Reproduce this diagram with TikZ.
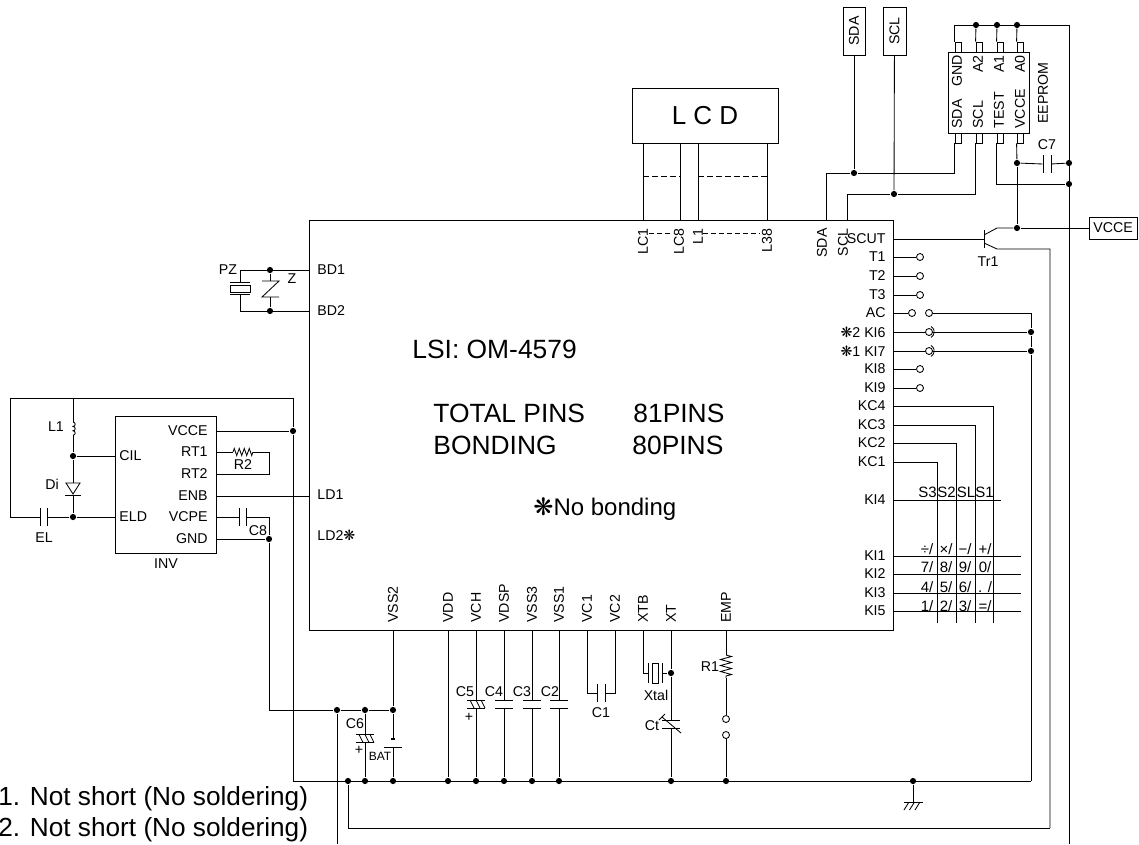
\documentclass[tikz,border=0pt]{standalone}
\usepackage{fontspec}
\setmainfont{Liberation Sans}
\newfontfamily\markfont{DejaVu Sans}
\usepackage{tikz}
\usetikzlibrary{positioning,decorations.pathmorphing}
\newcommand{\mrk}{{\markfont ❋}}
\begin{document}
\begin{tikzpicture}[
x=1pt,y=-1pt,line width=.85pt,
txt/.style={
	inner sep=0pt,
	font=\fontsize{14.2}{16}\selectfont
},
keytxt/.style={
	inner sep=0pt,
	font=\fontsize{15}{16}\selectfont
},
vtxt/.style={
	txt,
	rotate=90
},
big/.style={
	inner sep=0pt,
	anchor=west,
	font=\fontsize{26.4}{30}\selectfont
},
box/.style={
	draw,
	inner sep=0pt
},
pinbox/.style={
	draw,
	inner sep=0pt,
	minimum width=6pt,
	minimum height=10pt
},
dot/.style={
	circle,
	fill,
	inner sep=0pt,
	minimum size=6.2pt
},
hole/.style={
	circle,
	draw,
	fill=white,
	inner sep=0pt,
	minimum size=7pt
},
platev/.style={
	fill,
	inner sep=0pt,
	outer sep=0pt,
	minimum width=.85pt,
	minimum height=#1
},
platev/.default=18pt,
plateh/.style={
	fill,
	inner sep=0pt,
	outer sep=0pt,
	minimum height=.85pt,
	minimum width=#1
},
plateh/.default=18pt,
zig/.style={
	decorate,
	decoration={zigzag,segment length=#1,amplitude=3.5pt}
}
]
\useasboundingbox (0,0) rectangle (1139,844);

\node[box,minimum width=584pt,minimum height=410pt] (lsi) at (601,425) {};
\node[big] (lsiname) at (412,349) {LSI: OM-4579};
\node[big] (total) at (433,413) {TOTAL PINS};
\node[big] (totaln) at (633,413) {81PINS};
\node[big] (bond) at (433,445) {BONDING};
\node[big] (bondn) at (632,445) {80PINS};
\node[big,font=\fontsize{24}{28}\selectfont] (nobond) at (533,509) {\mrk No bonding};

\node[box,minimum width=146pt,minimum height=55pt,font=\fontsize{26}{30}\selectfont] (lcd) at (705,115.5) {L C D};
\coordinate (lc1) at (643,220);
\coordinate (lc8) at (680,220);
\coordinate (l1) at (698,220);
\coordinate (l38) at (767,220);
\draw (lc1 |- lcd.south) -- (lc1);
\draw (lc8 |- lcd.south) -- (lc8);
\draw (l1 |- lcd.south) -- (l1);
\draw (l38 |- lcd.south) -- (l38);
\coordinate (lc1m) at (643,176);
\coordinate (lc8m) at (680,176);
\coordinate (l1m) at (698,176);
\coordinate (l38m) at (767,176);
\draw[dash pattern=on 6pt off 3pt] (lc1m) -- (lc8m);
\draw[dash pattern=on 6pt off 3pt] (l1m) -- (l38m);
\node[vtxt,anchor=east] (lc1t) at (643,228) {LC1};
\node[vtxt,anchor=east] (lc8t) at (679,228) {LC8};
\node[vtxt,anchor=east] (l1t) at (698,228) {L1};
\node[vtxt,anchor=east] (l38t) at (767,228) {L38};
\coordinate (lcda) at (649,233);
\coordinate (lcdb) at (673,233);
\coordinate (lcdc) at (703,233);
\coordinate (lcdd) at (760,233);
\draw[dash pattern=on 5pt off 3pt] (lcda) -- (lcdb);
\draw[dash pattern=on 5pt off 3pt] (lcdc) -- (lcdd);

\node[box,rotate=90,minimum width=48pt,minimum height=22pt,font=\fontsize{14.2}{16}\selectfont] (sdab) at (854,31) {SDA};
\node[box,rotate=90,minimum width=48pt,minimum height=23pt,font=\fontsize{14.2}{16}\selectfont] (sclb) at (894.5,31) {SCL};
\node[dot] (dsda) at (854,173) {};
\node[dot] (dscl) at (894,194) {};
\coordinate (sdap) at (826,220);
\coordinate (sclp) at (847,220);
\node[vtxt,anchor=east] (sdat) at (822,228) {SDA};
\node[vtxt,anchor=east] (sclt) at (843,228) {SCL};
\draw (sdab) -- (dsda);
\draw (sclb) -- (dscl);
\draw (dsda) -| (sdap);
\draw (dscl) -| (sclp);

\node[box,minimum width=81pt,minimum height=81pt] (eep) at (988.5,92.5) {};
\node[pinbox] (pgnd) at (958,47) {};
\node[pinbox] (pa2) at (979,47) {};
\node[pinbox] (pa1) at (1000,47) {};
\node[pinbox] (pa0) at (1020,47) {};
\node[pinbox] (psda) at (958,138) {};
\node[pinbox] (pscl) at (979,138) {};
\node[pinbox] (ptest) at (1000,138) {};
\node[pinbox] (pvcc) at (1020,138) {};
\node[vtxt,anchor=east] (gndt) at (957,55) {GND};
\node[vtxt,anchor=east] (a2t) at (978,55) {A2};
\node[vtxt,anchor=east] (a1t) at (999,55) {A1};
\node[vtxt,anchor=east] (a0t) at (1020,55) {A0};
\node[vtxt,anchor=west] (esdat) at (957,129) {SDA};
\node[vtxt,anchor=west] (esclt) at (978,129) {SCL};
\node[vtxt,anchor=west] (testt) at (999,129) {TEST};
\node[vtxt,anchor=west] (vccet) at (1020,129) {VCCE};
\node[vtxt] (eept) at (1043,93) {EEPROM};

\node[dot] (da2) at (976,25) {};
\node[dot] (da1) at (997,25) {};
\node[dot] (da0) at (1017,25) {};
\coordinate (rtop) at (1069,25);
\coordinate (rend) at (1069,844);
\node[dot] (dc7r) at (1069,163) {};
\node[dot] (dtest) at (1069,184) {};
\node[dot] (dc7l) at (1017,163) {};
\node[dot] (dvcc) at (1017,228) {};
\draw (pgnd.north west) |- (rtop);
\draw (pa2.north west) -- (da2);
\draw (pa1.north west) -- (da1);
\draw (pa0.north west) -- (da0);
\draw (rtop) -- (rend);
\draw (psda.south west) |- (dsda);
\draw (pscl.south west) |- (dscl);
\draw (ptest.south west) |- (dtest);
\draw (pvcc.south west) -- (dc7l);
\draw (dc7l) -- (dvcc);
\node[platev] (c7a) at (1043,164) {};
\node[platev] (c7b) at (1051,164) {};
\draw (dc7l) -- (c7a);
\draw (c7b) -- (dc7r);
\node[txt] (c7t) at (1047,145) {C7};

\node[box,minimum width=48pt,minimum height=22pt,font=\fontsize{14.2}{16}\selectfont] (vcceb) at (1113,228) {VCCE};
\coordinate (scut) at (893,239);
\node[platev] (trb) at (984,239) {};
\coordinate (trc) at (984,235);
\coordinate (tro) at (997,228);
\coordinate (tre) at (984,243);
\coordinate (tru) at (997,249);
\coordinate (wbr) at (1050,828);
\node[dot] (dret) at (348,781) {};
\node[txt] (trt) at (988,262) {Tr1};
\draw (scut) -- (trb);
\draw (trc) -- (tro) -- (dvcc);
\draw (dvcc) -- (vcceb);
\draw (tre) -- (tru) -| (wbr);
\draw (wbr) -| (dret);
\node[txt,left=7pt of scut] (scutt) {SCUT};

\coordinate (t1) at (893,257);
\coordinate (t2) at (893,276);
\coordinate (t3) at (893,295);
\coordinate (ac) at (893,313);
\coordinate (ki6) at (893,332);
\coordinate (ki7) at (893,351);
\coordinate (ki8) at (893,369);
\coordinate (ki9) at (893,388);
\coordinate (kc4) at (893,406);
\coordinate (kc3) at (893,425);
\coordinate (kc2) at (893,443);
\coordinate (kc1) at (893,462);
\coordinate (ki4) at (893,500);
\coordinate (ki1) at (893,556);
\coordinate (ki2) at (893,574);
\coordinate (ki3) at (893,593);
\coordinate (ki5) at (893,611);
\node[txt,left=7pt of t1] (t1t) {T1};
\node[txt,left=7pt of t2] (t2t) {T2};
\node[txt,left=7pt of t3] (t3t) {T3};
\node[txt,left=7pt of ac] (act) {AC};
\node[txt,left=7pt of ki6] (ki6t) {\mrk2 KI6};
\node[txt,left=7pt of ki7] (ki7t) {\mrk1 KI7};
\node[txt,left=7pt of ki8] (ki8t) {KI8};
\node[txt,left=7pt of ki9] (ki9t) {KI9};
\node[txt,left=7pt of kc4] (kc4t) {KC4};
\node[txt,left=7pt of kc3] (kc3t) {KC3};
\node[txt,left=7pt of kc2] (kc2t) {KC2};
\node[txt,left=7pt of kc1] (kc1t) {KC1};
\node[txt,left=7pt of ki4] (ki4t) {KI4};
\node[txt,left=7pt of ki1] (ki1t) {KI1};
\node[txt,left=7pt of ki2] (ki2t) {KI2};
\node[txt,left=7pt of ki3] (ki3t) {KI3};
\node[txt,left=7pt of ki5] (ki5t) {KI5};

\node[hole] (t1h) at (920,257) {};
\node[hole] (t2h) at (920,276) {};
\node[hole] (t3h) at (920,295) {};
\node[hole] (ach1) at (912,313) {};
\node[hole] (ach2) at (929,313) {};
\node[hole] (ki8h) at (920,369) {};
\node[hole] (ki9h) at (920,388) {};
\draw (t1) -- (t1h);
\draw (t2) -- (t2h);
\draw (t3) -- (t3h);
\draw (ac) -- (ach1);
\draw (ki8) -- (ki8h);
\draw (ki9) -- (ki9h);
\node[dot] (dki6) at (1031,332) {};
\node[dot] (dki7) at (1031,351) {};
\coordinate (rbr) at (1031,781);
\draw (ach2) -| (dki6);
\draw (dki6) -- (dki7);
\draw (dki7) -- (rbr);
\draw (ki6) -- (dki6);
\draw (ki7) -- (dki7);
\node[hole] (ki6h) at (929,332) {};
\node[hole] (ki7h) at (929,351) {};
\draw (ki6h.center) ++(2,-5.5) coordinate (ki6a) arc[start angle=60,end angle=-60,radius=6.3pt];
\draw (ki7h.center) ++(2,-5.5) coordinate (ki7a) arc[start angle=60,end angle=-60,radius=6.3pt];

\coordinate (kc4e) at (993,623);
\coordinate (kc3e) at (975,623);
\coordinate (kc2e) at (956,623);
\coordinate (kc1e) at (937,623);
\draw (kc4) -| (kc4e);
\draw (kc3) -| (kc3e);
\draw (kc2) -| (kc2e);
\draw (kc1) -| (kc1e);
\coordinate (ki4e) at (1001,500);
\coordinate (ki1e) at (1021,556);
\coordinate (ki2e) at (1021,574);
\coordinate (ki3e) at (1021,593);
\coordinate (ki5e) at (1021,611);
\draw (ki4) -- (ki4e);
\draw (ki1) -- (ki1e);
\draw (ki2) -- (ki2e);
\draw (ki3) -- (ki3e);
\draw (ki5) -- (ki5e);

\node[keytxt] (s3) at (927.5,492) {S3};
\node[keytxt] (s2) at (946.5,492) {S2};
\node[keytxt] (sl) at (966,492) {SL};
\node[keytxt] (s1) at (984.5,492) {S1};
\node[keytxt] (kdiv) at (927,549) {÷/};
\node[keytxt] (kmul) at (946,549) {×/};
\node[keytxt] (ksub) at (965,549) {−/};
\node[keytxt] (kadd) at (985,549) {+/};
\node[keytxt] (k7) at (927,567) {7/};
\node[keytxt] (k8) at (946,567) {8/};
\node[keytxt] (k9) at (965,567) {9/};
\node[keytxt] (k0) at (985,567) {0/};
\node[keytxt] (k4) at (927,587) {4/};
\node[keytxt] (k5) at (946,587) {5/};
\node[keytxt] (k6) at (965,587) {6/};
\node[keytxt] (kdot) at (985,587) {. /};
\node[keytxt] (k1) at (927,606) {1/};
\node[keytxt] (k2) at (946,606) {2/};
\node[keytxt] (k3) at (965,606) {3/};
\node[keytxt] (keq) at (985,606) {=/};

\coordinate (bd1) at (309,270);
\coordinate (bd2) at (309,311);
\node[txt,anchor=west] (bd1t) at (317,270) {BD1};
\node[txt,anchor=west] (bd2t) at (317,311) {BD2};
\node[txt,anchor=west] (ld1t) at (317,495) {LD1};
\node[txt,anchor=west] (ld2t) at (317,535) {LD2\mrk};
\coordinate (pzt) at (240,270);
\coordinate (pzb) at (240,311);
\node[dot] (dz1) at (270,270) {};
\node[dot] (dz2) at (270,311) {};
\node[plateh=20pt] (pza) at (240,282) {};
\node[plateh=20pt] (pzc) at (240,294) {};
\node[box,minimum width=20pt,minimum height=7pt] (pzr) at (240,288.5) {};
\draw (bd1) -- (pzt) -- (pza);
\draw (bd2) -- (pzb) -- (pzc);
\coordinate (z1) at (270,281);
\coordinate (z2) at (270,297);
\draw (dz1) -- (z1);
\draw (z2) -- (dz2);
\draw (262,281) -- (279,281) -- (262,297) -- (279,297);
\node[txt] (pzl) at (228,270) {PZ};
\node[txt] (zl) at (292,279) {Z};

\node[box,minimum width=101pt,minimum height=137pt] (inv) at (165.5,484.5) {};
\node[txt] (invt) at (166,564) {INV};
\coordinate (ovcc) at (216,431);
\coordinate (ort1) at (216,452);
\coordinate (ort2) at (216,474);
\coordinate (oenb) at (216,496);
\coordinate (ovcp) at (216,517);
\coordinate (ognd) at (216,539);
\coordinate (ocil) at (115,456);
\coordinate (oeld) at (115,517);
\node[txt,left=8pt of ovcc] (ovcct) {VCCE};
\node[txt,left=8pt of ort1] (ort1t) {RT1};
\node[txt,left=8pt of ort2] (ort2t) {RT2};
\node[txt,left=8pt of oenb] (oenbt) {ENB};
\node[txt,left=8pt of ovcp] (ovcpt) {VCPE};
\node[txt,left=8pt of ognd] (ognt) {GND};
\node[txt,right=4pt of ocil] (ocilt) {CIL};
\node[txt,right=4pt of oeld] (oeldt) {ELD};

\coordinate (rtl) at (10,398);
\coordinate (rtr) at (293,398);
\coordinate (rbl) at (293,781);
\node[dot] (dvi) at (293,431) {};
\coordinate (ld1) at (309,496);
\draw (ovcc) -- (dvi);
\draw (oenb) -- (ld1);
\draw (rtl) -- (rtr) -- (dvi);
\draw (dvi) -- (rbl) -- (rbr);

\coordinate (l1top) at (73,398);
\coordinate (l1a) at (73,422);
\coordinate (l1b) at (73,435.2);
\node[dot] (dcil) at (73,456) {};
\node[dot] (deld) at (73,517) {};
\coordinate (dit) at (73,483);
\node[plateh=16pt] (dib) at (73,495) {};
\draw (l1top) -- (l1a);
\draw (l1a) arc[start angle=90,end angle=-90,radius=2.2pt] arc[start angle=90,end angle=-90,radius=2.2pt] arc[start angle=90,end angle=-90,radius=2.2pt];
\draw (l1b) -- (dcil);
\draw (dcil) -- (ocil);
\draw (dcil) -- (dit);
\draw (66,483) -- (80,483) -- (73,494) -- cycle;
\draw (dib) -- (deld);
\draw (deld) -- (oeld);
\node[platev] (ela) at (40,517) {};
\node[platev] (elb) at (47,517) {};
\draw (deld) -- (elb);
\draw (ela) -| (rtl);
\node[txt] (elt) at (44,538) {EL};
\node[txt] (l1l) at (56,427) {L1};
\node[txt] (dil) at (52,484) {Di};

\coordinate (r2a) at (233,452);
\coordinate (r2b) at (253,452);
\coordinate (r2c) at (269,474);
\draw (ort1) -- (r2a);
\draw[zig=5pt] (r2a) -- (r2b);
\draw (r2b) -| (r2c) -- (ort2);
\node[txt] (r2t) at (243,465) {R2};
\node[platev] (c8a) at (239,517) {};
\node[platev] (c8b) at (246.5,517) {};
\node[dot] (dgnd) at (269,539) {};
\draw (ovcp) -- (c8a);
\draw (c8b) -| (dgnd);
\draw (ognd) -- (dgnd);
\node[txt] (c8t) at (258,531) {C8};

\node[dot] (d337) at (337,710) {};
\node[dot] (d365) at (365,710) {};
\node[dot] (d393) at (393,710) {};
\coordinate (vss2) at (393,630);
\coordinate (wend) at (337,844);
\draw (dgnd) |- (d337);
\draw (d337) -- (d365) -- (d393);
\draw (vss2) -- (d393);
\draw (d337) -- (wend);
\node[vtxt,anchor=west] (vss2t) at (393,623) {VSS2};
\node[vtxt,anchor=west] (vddt) at (448,623) {VDD};
\node[vtxt,anchor=west] (vcht) at (476,623) {VCH};
\node[vtxt,anchor=west] (vdspt) at (504,623) {VDSP};
\node[vtxt,anchor=west] (vss3t) at (532,623) {VSS3};
\node[vtxt,anchor=west] (vss1t) at (559,623) {VSS1};
\node[vtxt,anchor=west] (vc1t) at (587,623) {VC1};
\node[vtxt,anchor=west] (vc2t) at (615,623) {VC2};
\node[vtxt,anchor=west] (xtbt) at (643,623) {XTB};
\node[vtxt,anchor=west] (xtt) at (671,623) {XT};
\node[vtxt,anchor=west] (empt) at (726,623) {EMP};

\node[dot] (d365b) at (365,781) {};
\node[dot] (dbat) at (393,781) {};
\node[dot] (dvdd) at (448,781) {};
\node[dot] (dvch) at (476,781) {};
\node[dot] (dvdsp) at (504,781) {};
\node[dot] (dvss3) at (532,781) {};
\node[dot] (dvss1) at (559,781) {};
\node[dot] (dxt) at (671,781) {};
\node[dot] (demp) at (726,781) {};
\node[dot] (dearth) at (913,781) {};

\node[plateh] (c6a) at (365,734.5) {};
\node[plateh] (c6b) at (365,742.5) {};
\draw (d365) -- (c6a);
\draw (c6b) -- (d365b);
\draw (359,734.5) -- (363,742.5);
\draw (365,734.5) -- (369,742.5);
\draw (370,734.5) -- (374,742.5);
\node[txt] (c6t) at (355,724) {C6};
\node[txt] (c6p) at (359,750) {+};
\node[fill,inner sep=0pt,minimum width=4pt,minimum height=2pt] (bata) at (393,739) {};
\node[plateh] (batb) at (393,747) {};
\draw (d393) -- (bata);
\draw (batb) -- (dbat);
\node[txt,font=\fontsize{12}{14}\selectfont] (batt) at (380,756) {BAT};

\coordinate (vdd) at (448,630);
\coordinate (vch) at (476,630);
\coordinate (vdsp) at (504,630);
\coordinate (vss3) at (532,630);
\coordinate (vss1) at (559,630);
\draw (vdd) -- (dvdd);
\node[plateh] (c5a) at (476,700) {};
\node[plateh] (c5b) at (476,708) {};
\node[plateh] (c4a) at (504,700) {};
\node[plateh] (c4b) at (504,708) {};
\node[plateh] (c3a) at (532,700) {};
\node[plateh] (c3b) at (532,708) {};
\node[plateh] (c2a) at (559,700) {};
\node[plateh] (c2b) at (559,708) {};
\draw (vch) -- (c5a);
\draw (c5b) -- (dvch);
\draw (vdsp) -- (c4a);
\draw (c4b) -- (dvdsp);
\draw (vss3) -- (c3a);
\draw (c3b) -- (dvss3);
\draw (vss1) -- (c2a);
\draw (c2b) -- (dvss1);
\draw (470,700) -- (474,708);
\draw (476,700) -- (480,708);
\draw (481,700) -- (485,708);
\node[txt] (c5t) at (465,692) {C5};
\node[txt] (c4t) at (494,692) {C4};
\node[txt] (c3t) at (522,692) {C3};
\node[txt] (c2t) at (550,692) {C2};
\node[txt] (c5p) at (469,717) {+};

\coordinate (vc1) at (587,630);
\coordinate (vc2) at (615,630);
\node[platev] (c1a) at (597,693) {};
\node[platev] (c1b) at (605,693) {};
\draw (vc1) |- (c1a);
\draw (vc2) |- (c1b);
\node[txt] (c1t) at (601,713) {C1};

\coordinate (xtb) at (643,630);
\coordinate (xt) at (671,630);
\node[platev=20pt] (xa) at (648,673) {};
\node[platev=20pt] (xb) at (662,673) {};
\node[box,minimum width=6pt,minimum height=20pt] (xr) at (655,673) {};
\node[dot] (dxtal) at (671,673) {};
\draw (xtb) |- (xa);
\draw (xb) -- (dxtal);
\draw (xt) -- (dxtal);
\node[txt] (xtalt) at (656,695) {Xtal};
\node[plateh] (cta) at (671,720) {};
\node[plateh] (ctb) at (671,728) {};
\draw (dxtal) -- (cta);
\draw (ctb) -- (dxt);
\draw (662,717) -- (681,733);
\draw (665,714) -- (659,720);
\node[txt] (ctt) at (652,726) {Ct};

\coordinate (emp) at (726,630);
\coordinate (r1a) at (726,655);
\coordinate (r1b) at (726,678);
\node[hole] (sw1) at (726,719) {};
\node[hole] (sw2) at (726,735) {};
\draw (emp) -- (r1a);
\draw[zig=6pt,decoration={amplitude=5.5pt}] (r1a) -- (r1b);
\draw (r1b) -- (sw1);
\draw (sw2) -- (demp);
\node[txt] (r1t) at (710,667) {R1};

\coordinate (gndc) at (913,802);
\node[plateh=19pt] (gndb) at (913.5,802) {};
\draw (dearth) -- (gndc);
\draw (909,802) -- (904,810);
\draw (914.5,802) -- (909.5,810);
\draw (920,802) -- (915,810);

\node[big,anchor=east,font=\fontsize{26.2}{30}\selectfont] (note1) at (308.5,799) {1. Not short (No soldering)};
\node[big,anchor=east,font=\fontsize{26.2}{30}\selectfont] (note2) at (308.5,830) {2. Not short (No soldering)};
\end{tikzpicture}
\end{document}
